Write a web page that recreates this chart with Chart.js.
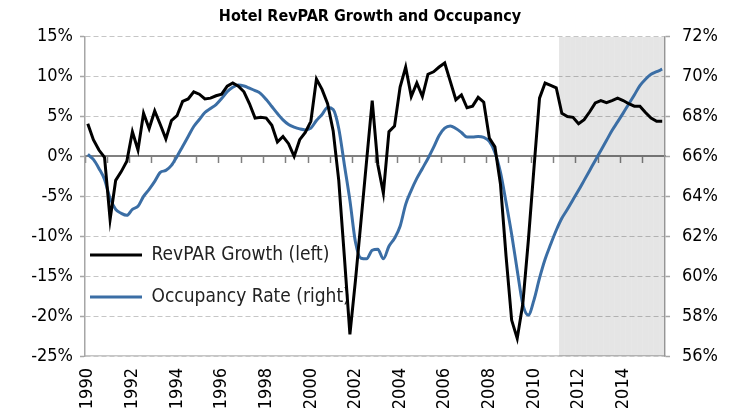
<!DOCTYPE html>
<html lang="en">
<head>
    <meta charset="UTF-8">
    <title>Hotel RevPAR Growth and Occupancy</title>
    <script src="https://cdn.jsdelivr.net/npm/chart.js"></script>
    <style>
        body { margin: 0; background: #fff; }
        .grafico { width: 740px; height: 420px; }
    </style>
</head>
<body>
    <div class="grafico">
        <canvas id="hotelChart"></canvas>
    </div>
<script>
    const years = [1990, 1991, 1992, 1993, 1994, 1995, 1996, 1997, 1998, 1999, 2000, 2001, 2002,
        2003, 2004, 2005, 2006, 2007, 2008, 2009, 2010, 2011, 2012, 2013, 2014, 2015];
    const quarters = ['Q1', 'Q2', 'Q3', 'Q4'];

    // RevPAR growth, % y/y, left axis (one row per year)
    const revparGrowth = [
        4.1, 2.1, 0.8, -0.1,
        -7.9, -3.0, -1.9, -0.6,
        3.1, 0.8, 5.4, 3.5,
        5.7, 4.0, 2.2, 4.5,
        5.1, 6.9, 7.2, 8.1,
        7.8, 7.2, 7.3, 7.6,
        7.8, 8.8, 9.2, 8.8,
        8.1, 6.6, 4.8, 4.9,
        4.8, 3.9, 1.8, 2.5,
        1.6, 0.0, 2.1, 3.0,
        4.4, 9.7, 8.4, 6.6,
        3.2, -3.0, -12.5, -22.3,
        -15.5, -8.0, -0.5, 7.0,
        -1.0, -4.6, 3.1, 3.8,
        8.7, 11.2, 7.5, 9.2,
        7.5, 10.3, 10.6, 11.2,
        11.7, 9.4, 7.1, 7.7,
        6.1, 6.3, 7.4, 6.8,
        2.3, 1.2, -3.5, -12.5,
        -20.5, -22.8, -18.5, -10.5,
        -1.5, 7.3, 9.2, 8.9,
        8.6, 5.4, 5.0, 4.9,
        4.1, 4.6, 5.6, 6.7,
        7.0, 6.75, 7.0, 7.3,
        7.0, 6.6, 6.3, 6.3,
        5.5, 4.8, 4.4, 4.4
    ];

    // occupancy rate, %, right axis
    const occupancyRate = [
        66.1, 65.85, 65.4, 64.85,
        63.9, 63.35, 63.15, 63.05,
        63.35, 63.5, 64.0, 64.35,
        64.75, 65.2, 65.3, 65.55,
        66.0, 66.5, 67.0, 67.5,
        67.85, 68.2, 68.4, 68.6,
        68.9, 69.25, 69.47, 69.58,
        69.53, 69.42, 69.3, 69.15,
        68.85, 68.5, 68.15, 67.83,
        67.6, 67.47, 67.38, 67.33,
        67.42, 67.8, 68.1, 68.45,
        68.35, 67.4, 65.6, 63.8,
        61.7, 60.9, 60.87, 61.3,
        61.35, 60.87, 61.5, 61.9,
        62.5, 63.6, 64.3, 64.9,
        65.4, 65.9, 66.45, 67.05,
        67.42, 67.53, 67.4, 67.2,
        66.97, 66.97, 67.0, 66.95,
        66.75, 66.2, 65.2, 63.7,
        62.1, 60.3, 58.6, 58.05,
        58.8, 59.9, 60.85, 61.6,
        62.3, 62.9, 63.35, 63.83,
        64.3, 64.8, 65.3, 65.8,
        66.3, 66.8, 67.3, 67.73,
        68.17, 68.63, 69.08, 69.55,
        69.87, 70.12, 70.25, 70.37
    ];

    const forecastStart = '2011 Q2';   // shaded part of the chart
    const leftMin = -25, leftMax = 15, leftStep = 5;
    const rightMin = 56, rightMax = 72, rightStep = 2;

    const labels = [];
    years.forEach(function (ano) {
        quarters.forEach(function (q) { labels.push(ano + ' ' + q); });
    });
    const inicioSombra = labels.indexOf(forecastStart);
    const sombra = labels.map(function (l, i) { return i >= inicioSombra ? [leftMin, leftMax] : null; });

    const fonte = "'Liberation Sans Narrow', 'Arial Narrow', 'DejaVu Sans Condensed', sans-serif";
    const cinzaEixo = '#a6a6a6';
    const cinzaGrade = '#c6c6c6';

    // moves the built-in legend to the lower left of the plot
    const posLegenda = {
        id: 'posLegenda',
        afterLayout(chart) {
            const lg = chart.legend;
            const ca = chart.chartArea;
            const w = lg.width;
            lg.left = ca.left - 18;
            lg.right = lg.left + w;
            lg.top = ca.top;
            lg.bottom = ca.bottom - 26.5;
            lg.height = lg.bottom - lg.top;
        }
    };

    const config = {
        type: 'line',
        data: {
            labels: labels,
            datasets: [
                {
                    label: 'RevPAR Growth (left)',
                    data: revparGrowth,
                    borderColor: '#000000',
                    backgroundColor: '#000000',
                    borderWidth: 3,
                    pointRadius: 0,
                    tension: 0,
                    yAxisID: 'y',
                    order: 1
                },
                {
                    label: 'Occupancy Rate (right)',
                    data: occupancyRate,
                    borderColor: '#3b6ea5',
                    backgroundColor: '#3b6ea5',
                    borderWidth: 3,
                    pointRadius: 0,
                    cubicInterpolationMode: 'monotone',
                    yAxisID: 'y2',
                    order: 2
                },
                {
                    type: 'bar',
                    label: 'forecast',
                    data: sombra,
                    backgroundColor: 'rgba(0,0,0,0.1)',
                    borderWidth: 0,
                    inflateAmount: 0,
                    barPercentage: 1,
                    categoryPercentage: 1,
                    yAxisID: 'y',
                    order: 3
                }
            ]
        },
        options: {
            responsive: true,
            maintainAspectRatio: false,
            animation: false,
            layout: { padding: 0 },
            plugins: {
                title: {
                    display: true,
                    text: 'Hotel RevPAR Growth and Occupancy',
                    color: '#000',
                    font: { family: fonte, size: 16, weight: 'bold', lineHeight: 1.2 },
                    padding: { top: 7, bottom: 10.5 }
                },
                legend: {
                    position: 'chartArea',
                    align: 'end',
                    labels: {
                        usePointStyle: true,
                        pointStyle: 'line',
                        pointStyleWidth: 52,
                        padding: 23,
                        color: '#222',
                        font: { family: fonte, size: 19 },
                        filter: function (item) { return item.text !== 'forecast'; }
                    }
                },
                tooltip: { enabled: false }
            },
            scales: {
                x: {
                    type: 'category',
                    position: 'bottom',
                    offset: true,
                    grid: { display: false, drawTicks: false },
                    border: { display: true, color: cinzaGrade, width: 1.5 },
                    ticks: {
                        autoSkip: false,
                        minRotation: 90,
                        maxRotation: 90,
                        padding: 12,
                        color: '#000',
                        font: { family: fonte, size: 18 },
                        callback: function (v, i) { return i % 8 === 0 ? labels[i].slice(0, 4) : ''; }
                    },
                    afterFit: function (s) { s.height = 64; }
                },
                x2: {
                    type: 'category',
                    axis: 'x',
                    position: { y: 0 },
                    offset: true,
                    grid: {
                        display: true,
                        offset: true,
                        drawOnChartArea: false,
                        drawTicks: true,
                        tickLength: 6,
                        tickWidth: 1.5,
                        tickColor: function (ctx) { return ctx.index % 4 === 0 ? '#808080' : 'rgba(0,0,0,0)'; }
                    },
                    border: { display: true, color: '#808080', width: 2 },
                    ticks: { display: false }
                },
                y: {
                    position: 'left',
                    min: leftMin,
                    max: leftMax,
                    ticks: {
                        stepSize: leftStep,
                        padding: 7,
                        color: '#000',
                        font: { family: fonte, size: 18 },
                        callback: function (v) { return v + '%'; }
                    },
                    grid: {
                        color: function (ctx) { return ctx.tick && ctx.tick.value === 0 ? 'rgba(0,0,0,0)' : cinzaGrade; },
                        lineWidth: 1,
                        tickLength: 5,
                        tickWidth: 1.5,
                        tickColor: cinzaEixo
                    },
                    border: { display: true, color: cinzaEixo, width: 1.5, dash: [5, 3] },
                    afterFit: function (s) { s.width = 85; }
                },
                y2: {
                    position: 'right',
                    min: rightMin,
                    max: rightMax,
                    ticks: {
                        stepSize: rightStep,
                        padding: 12,
                        color: '#000',
                        font: { family: fonte, size: 18 },
                        callback: function (v) { return v + '%'; }
                    },
                    grid: {
                        drawOnChartArea: false,
                        tickLength: 5,
                        tickWidth: 1.5,
                        tickColor: cinzaEixo
                    },
                    border: { display: true, color: cinzaEixo, width: 1.5 },
                    afterFit: function (s) { s.width = 75; }
                }
            }
        },
        plugins: [posLegenda]
    };

    let meuGrafico = new Chart(document.getElementById('hotelChart'), config);
</script>
</body>
</html>
